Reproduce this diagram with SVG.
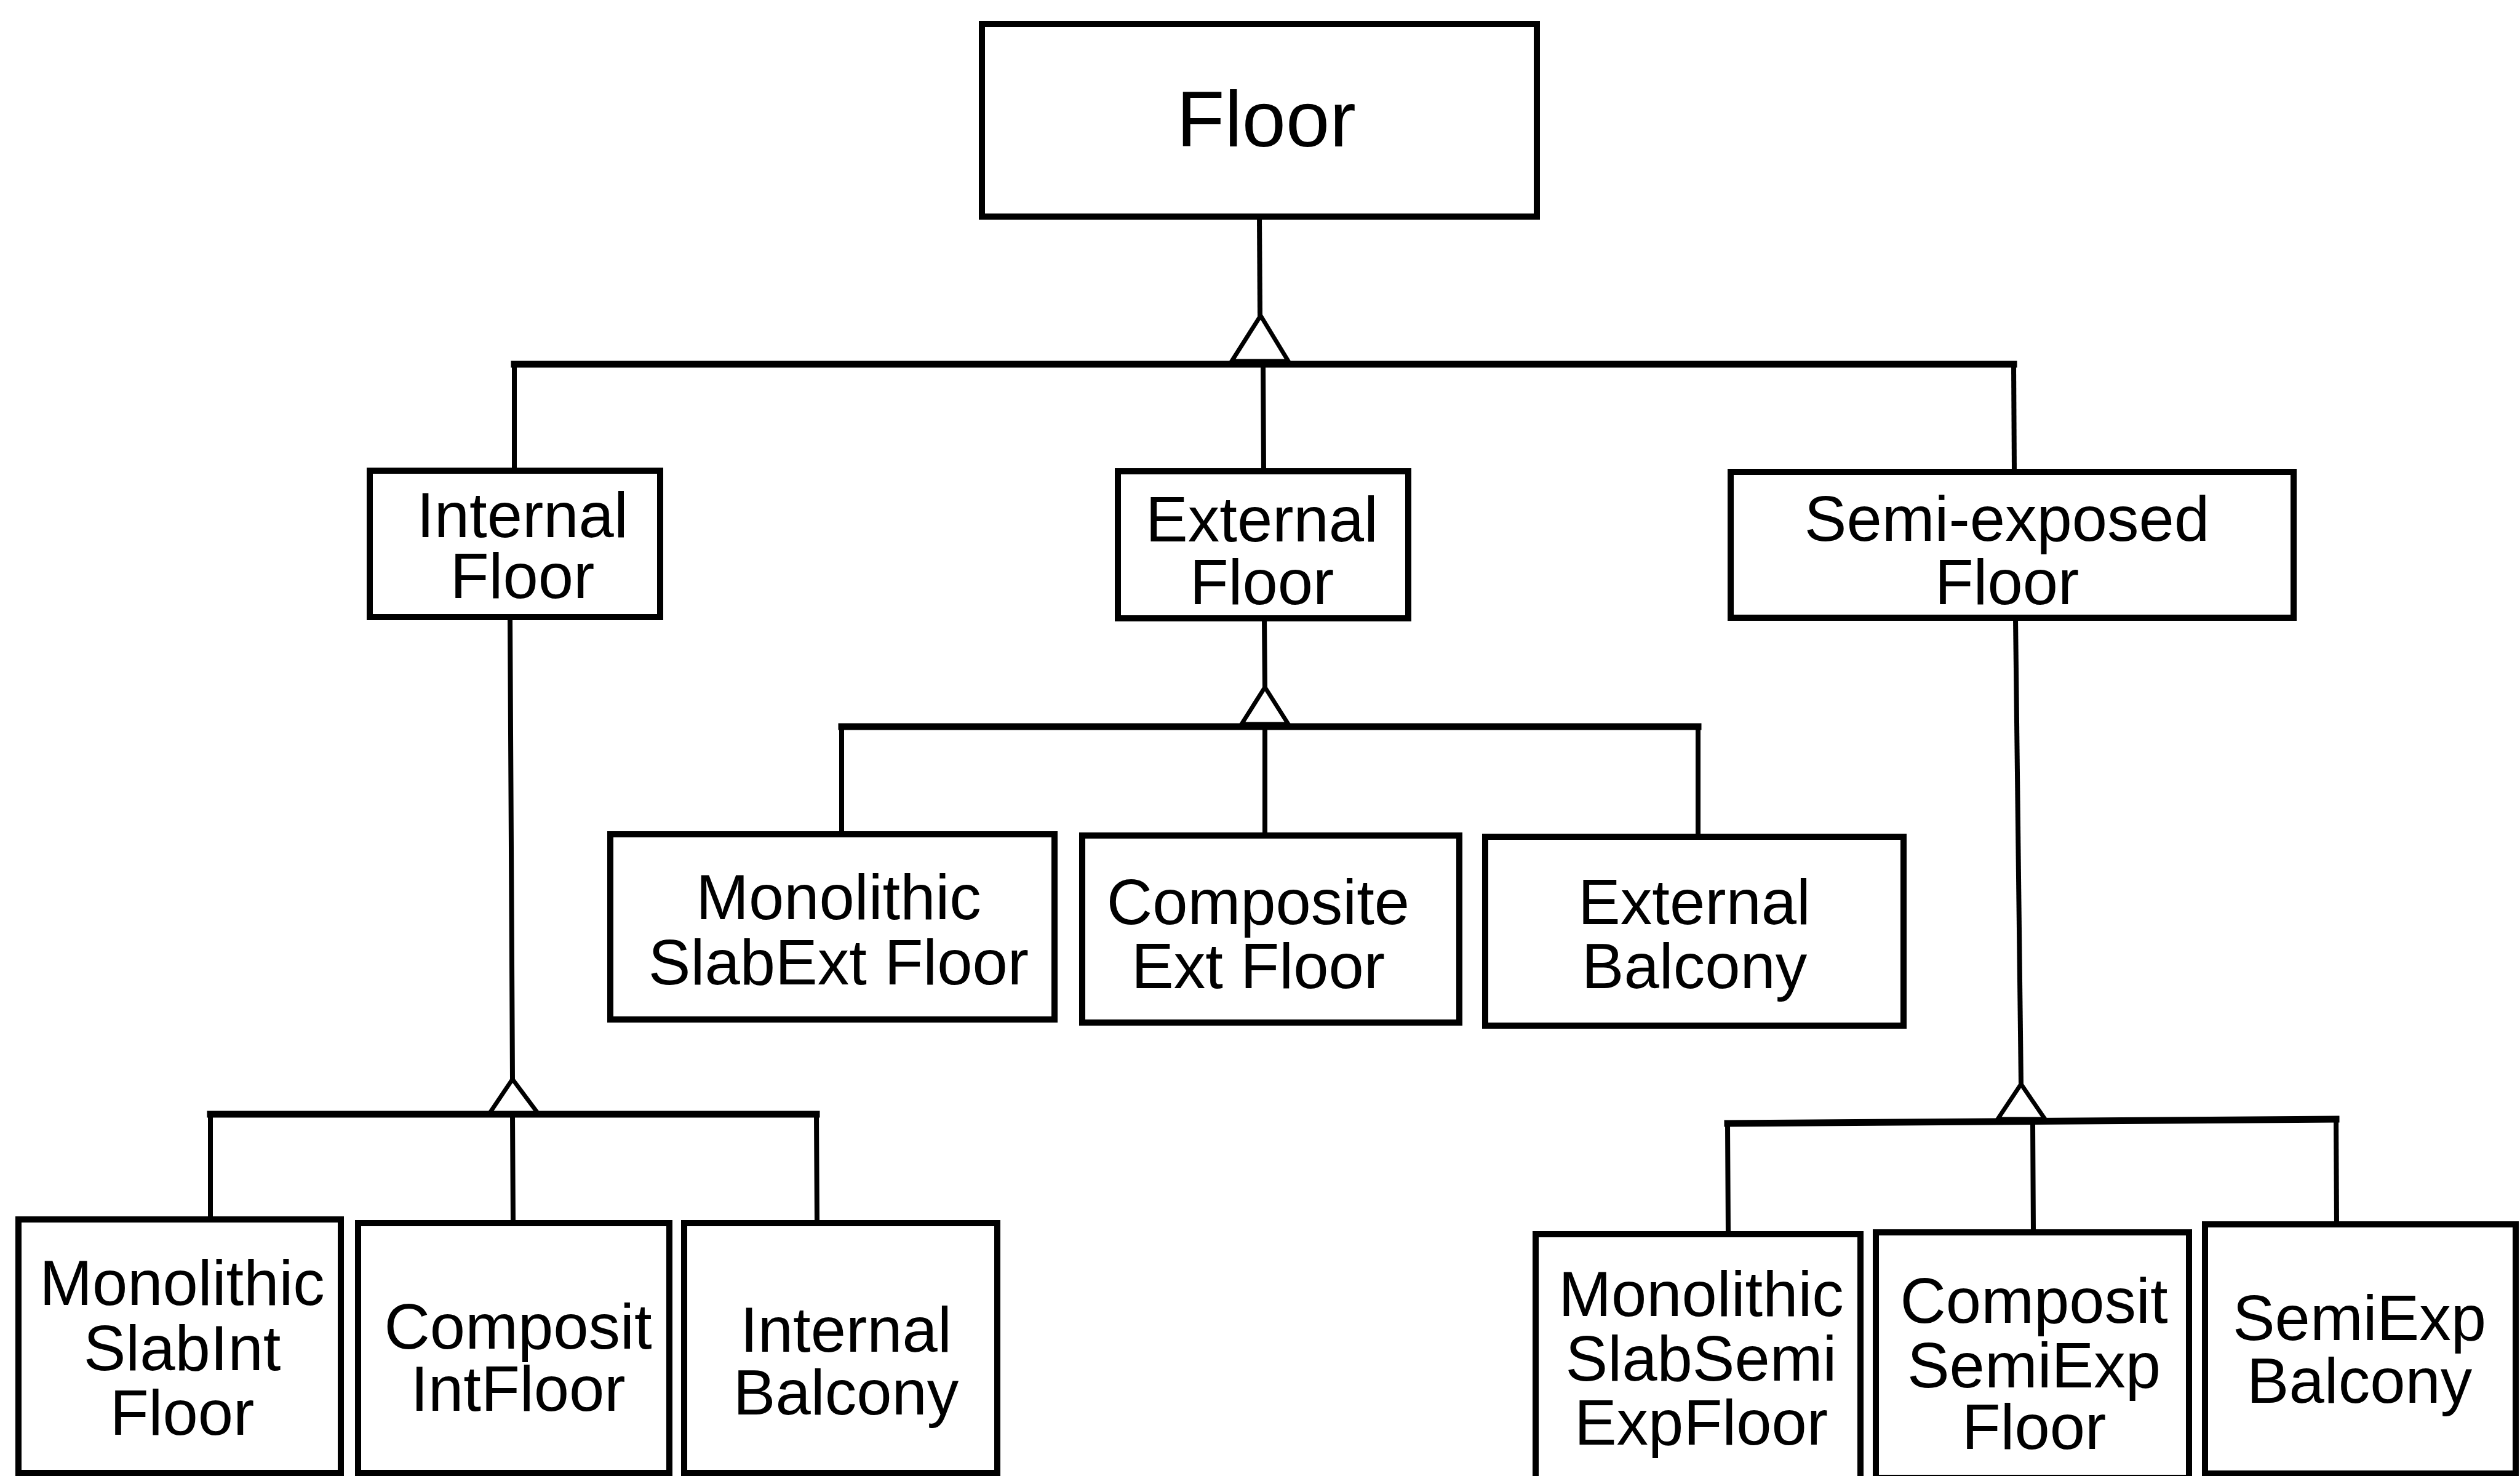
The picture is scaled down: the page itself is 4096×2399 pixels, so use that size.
<svg xmlns="http://www.w3.org/2000/svg" width="4096" height="2399" viewBox="0 0 4096 2399">
  <style>
    .box { fill: #ffffff; stroke: #000000; stroke-width: 10; }
    .wire { fill: none; stroke: #000000; stroke-width: 8; stroke-linecap: square; }
    .bar { fill: none; stroke: #000000; stroke-width: 11; stroke-linecap: square; }
    .gen { fill: #ffffff; stroke: #000000; stroke-width: 7; stroke-linejoin: miter; }
    .lbl { font-family: "Liberation Sans", Arial, Helvetica, sans-serif; font-size: 103px; fill: #000000; text-anchor: middle; }
    .title { font-size: 128px; }
  </style>

  <rect x="0" y="0" width="4096" height="2399" fill="#ffffff"/>

  <!-- generalisation connectors -->
  <g id="connectors">
    <!-- Floor -> Internal / External / Semi-exposed -->
    <line class="wire" x1="2047" y1="352" x2="2048" y2="513"/>
    <line class="bar" x1="836" y1="592" x2="3273" y2="592"/>
    <line class="wire" x1="836" y1="592" x2="836" y2="765"/>
    <line class="wire" x1="2053" y1="592" x2="2054" y2="766"/>
    <line class="wire" x1="3273" y1="592" x2="3274" y2="767"/>
    <polygon class="gen" points="2049,513 2094,587 2002,587"/>

    <!-- External Floor -> subtypes -->
    <line class="wire" x1="2055" y1="1005" x2="2056" y2="1117"/>
    <line class="bar" x1="1368" y1="1181" x2="2760" y2="1181"/>
    <line class="wire" x1="1368" y1="1181" x2="1368" y2="1356"/>
    <line class="wire" x1="2056" y1="1181" x2="2056" y2="1358"/>
    <line class="wire" x1="2760" y1="1181" x2="2760" y2="1360"/>
    <polygon class="gen" points="2056,1117 2094,1177 2018,1177"/>

    <!-- Internal Floor -> subtypes -->
    <line class="wire" x1="829" y1="1003" x2="833" y2="1754"/>
    <line class="bar" x1="342" y1="1811" x2="1327" y2="1811"/>
    <line class="wire" x1="342" y1="1811" x2="342" y2="1982"/>
    <line class="wire" x1="833" y1="1811" x2="834" y2="1988"/>
    <line class="wire" x1="1327" y1="1811" x2="1328" y2="1988"/>
    <polygon class="gen" points="833,1754 874,1809 796,1809"/>

    <!-- Semi-exposed Floor -> subtypes -->
    <line class="wire" x1="3276" y1="1004" x2="3285" y2="1762"/>
    <line class="bar" x1="2808" y1="1826" x2="3797" y2="1819"/>
    <line class="wire" x1="2808" y1="1826" x2="2809" y2="2006"/>
    <line class="wire" x1="3304" y1="1823" x2="3305" y2="2003"/>
    <line class="wire" x1="3797" y1="1819" x2="3798" y2="1990"/>
    <polygon class="gen" points="3285,1762 3324,1819 3247,1819"/>
  </g>

  <!-- root -->
  <g id="floor">
    <rect class="box" x="1596" y="39" width="902" height="313"/>
    <text class="lbl title" x="2058" y="238">Floor</text>
  </g>

  <!-- second level -->
  <g id="internal-floor">
    <rect class="box" x="601" y="765" width="472" height="238"/>
    <text class="lbl" x="849" y="873">Internal</text>
    <text class="lbl" x="849" y="972">Floor</text>
  </g>
  <g id="external-floor">
    <rect class="box" x="1817" y="766" width="472" height="239"/>
    <text class="lbl" x="2051" y="880">External</text>
    <text class="lbl" x="2051" y="982">Floor</text>
  </g>
  <g id="semi-exposed-floor">
    <rect class="box" x="2813" y="767" width="915" height="237"/>
    <text class="lbl" x="3262" y="879">Semi-exposed</text>
    <text class="lbl" x="3262" y="982">Floor</text>
  </g>

  <!-- external subtypes -->
  <g id="monolithic-slab-ext-floor">
    <rect class="box" x="992" y="1356" width="722" height="301"/>
    <text class="lbl" x="1363" y="1494">Monolithic</text>
    <text class="lbl" x="1363" y="1600">SlabExt Floor</text>
  </g>
  <g id="composite-ext-floor">
    <rect class="box" x="1759" y="1358" width="613" height="304"/>
    <text class="lbl" x="2045" y="1502">Composite</text>
    <text class="lbl" x="2045" y="1606">Ext Floor</text>
  </g>
  <g id="external-balcony">
    <rect class="box" x="2414" y="1360" width="680" height="307"/>
    <text class="lbl" x="2754" y="1502">External</text>
    <text class="lbl" x="2754" y="1606">Balcony</text>
  </g>

  <!-- internal subtypes -->
  <g id="monolithic-slab-int-floor">
    <rect class="box" x="30" y="1982" width="524" height="412"/>
    <text class="lbl" x="296" y="2121">Monolithic</text>
    <text class="lbl" x="296" y="2227">SlabInt</text>
    <text class="lbl" x="296" y="2332">Floor</text>
  </g>
  <g id="composit-int-floor">
    <rect class="box" x="582" y="1988" width="506" height="406"/>
    <text class="lbl" x="842" y="2192">Composit</text>
    <text class="lbl" x="842" y="2293">IntFloor</text>
  </g>
  <g id="internal-balcony">
    <rect class="box" x="1112" y="1988" width="509" height="406"/>
    <text class="lbl" x="1375" y="2197">Internal</text>
    <text class="lbl" x="1375" y="2299">Balcony</text>
  </g>

  <!-- semi-exposed subtypes -->
  <g id="monolithic-slab-semi-exp-floor">
    <rect class="box" x="2496" y="2006" width="528" height="400"/>
    <text class="lbl" x="2765" y="2139">Monolithic</text>
    <text class="lbl" x="2765" y="2244">SlabSemi</text>
    <text class="lbl" x="2765" y="2348">ExpFloor</text>
  </g>
  <g id="composit-semi-exp-floor">
    <rect class="box" x="3049" y="2003" width="509" height="399"/>
    <text class="lbl" x="3306" y="2150">Composit</text>
    <text class="lbl" x="3306" y="2255">SemiExp</text>
    <text class="lbl" x="3306" y="2355">Floor</text>
  </g>
  <g id="semi-exp-balcony">
    <rect class="box" x="3584" y="1990" width="505" height="405"/>
    <text class="lbl" x="3835" y="2178">SemiExp</text>
    <text class="lbl" x="3835" y="2280">Balcony</text>
  </g>
</svg>
